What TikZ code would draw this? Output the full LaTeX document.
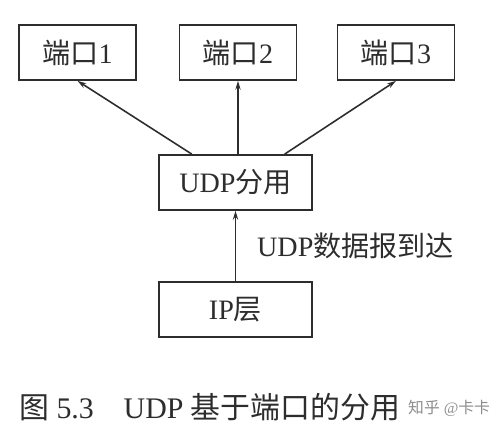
\documentclass[tikz,border=0pt]{standalone}
\usepackage{fontspec}
\setmainfont{Liberation Serif}
\newfontfamily\cjk{Noto Sans CJK SC}
\usetikzlibrary{arrows.meta, positioning, calc}
\definecolor{inkgray}{RGB}{45,45,45}

\begin{document}
\begin{tikzpicture}[
  every node/.style={font=\fontsize{16}{19}\selectfont, text=inkgray},
  portbox/.style={rectangle, draw=inkgray, line width=1pt, minimum width=2.34cm, minimum height=1.1cm, inner sep=0pt},
  layerbox/.style={rectangle, draw=inkgray, line width=1pt, minimum width=3.06cm, minimum height=1.1cm, inner sep=0pt},
  arr/.style={-{Stealth[length=5pt, width=3pt]}, draw=inkgray, line width=0.9pt},
]
\useasboundingbox (0,0) rectangle (9.84,-8.64);

%% Ports
\node[portbox] (p1) at (1.55, -1.05) {{\cjk 端口}1};
\node[portbox] (p2) at (4.76, -1.05) {{\cjk 端口}2};
\node[portbox] (p3) at (7.92, -1.05) {{\cjk 端口}3};

%% Demultiplexer and IP layer
\node[layerbox] (udp) at (4.71, -3.65) {UDP{\cjk 分用}};
\node[layerbox] (ip)  at (4.71, -6.19) {IP{\cjk 层}};

%% Arrows up to the ports
\draw[arr] (udp.147.7) -- (p1.south);
\draw[arr] (udp.north -| p2.south) -- (p2.south);
\draw[arr] (udp.30.1) -- (p3.south);

%% Datagram arrival
\draw[arr] (ip.north) -- node[right=0.3cm] {UDP{\cjk 数据报到达}} (udp.south);

%% Caption
\node[anchor=west, font=\fontsize{17}{20}\selectfont] (cap) at (0.26, -8.14)
  {{\cjk 图} 5.3\quad UDP {\cjk 基于端口的分用}};
\node[anchor=west, font=\fontsize{9}{11}\selectfont, text=black!45] (mark) at (8.04, -8.16)
  {{\cjk 知乎} @{\cjk 卡卡}};

\end{tikzpicture}
\end{document}
